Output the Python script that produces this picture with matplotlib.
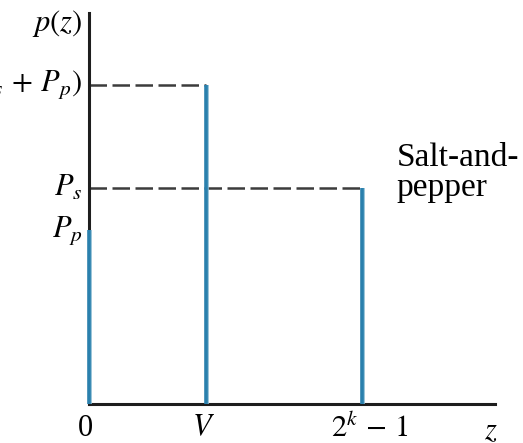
import matplotlib
matplotlib.use("Agg")
import matplotlib.pyplot as plt
import matplotlib.transforms as mtransforms

plt.rcParams["mathtext.fontset"] = "stix"
plt.rcParams["font.family"] = ["Liberation Serif", "DejaVu Serif"]

# impulse positions and heights of the salt-and-pepper PDF
z_pos = [0.0, 1.0, 2.33]
p_val = [0.445, 0.816, 0.552]
z_ticks = [-0.03, 0.98, 2.40]
z_tick_labels = ["0", "$V$", r"$2^k\,-\,1$"]
level_labels = [r"$(P_s\,+\,P_p)$", "$P_s$", "$P_p$"]
level_val = [0.816, 0.552, 0.445]

W, H = 523, 443
fig = plt.figure(figsize=(W / 100, H / 100), dpi=100)
# axes box in pixels: x 89..495, y 13..404 (from top)
ax = fig.add_axes([89 / W, (H - 404) / H, (495 - 89) / W, (404 - 13) / H])
ax.set_xlim(0, 3.47)
ax.set_ylim(0, 1.0)
for s in ["top", "right"]:
    ax.spines[s].set_visible(False)
for s in ["left", "bottom"]:
    ax.spines[s].set_linewidth(2.2)
    ax.spines[s].set_color("#1e1e1e")
ax.set_xticks([])
ax.set_yticks([])

# two-tone impulse lines: darker core, lighter right edge
ax.vlines([x + 0.012 for x in z_pos], 0, p_val, color="#86b9d2", lw=2.6,
          zorder=4, clip_on=False)
ax.vlines(z_pos, 0, p_val, color="#2a80ad", lw=2.6, zorder=5, clip_on=False)

# dashed guides from the y axis to the two tall impulses
ax.hlines([p_val[1]], 0, z_pos[1], color="#3c3c3c", lw=1.8,
          linestyles=(0, (7, 2.2)), zorder=2)
ax.hlines([p_val[2]], 0, z_pos[2], color="#3c3c3c", lw=1.8,
          linestyles=(0, (7, 2.2)), zorder=2)

fs = 22
ty = mtransforms.blended_transform_factory(ax.transAxes, ax.transData)
for lab, v in zip(level_labels, level_val):
    ax.text(-0.016, v, lab, transform=ty, ha="right", va="center",
            fontsize=fs, clip_on=False)
ax.text(-0.016, 0.972, "$p(z)$", transform=ty, ha="right", va="center",
        fontsize=fs, clip_on=False)

tx = mtransforms.blended_transform_factory(ax.transData, ax.transAxes)
for x, lab in zip(z_ticks, z_tick_labels):
    ax.text(x, -0.062, lab, transform=tx, ha="center", va="center",
            fontsize=fs, clip_on=False)
ax.text(0.99, -0.07, "$z$", transform=ax.transAxes, ha="center", va="center",
        fontsize=fs, clip_on=False)

ax.text(2.63, 0.67, "Salt-and-\npepper", ha="left", va="top",
        fontsize=24, linespacing=1.0, clip_on=False,
        family="Liberation Serif")

fig.savefig("out.png", dpi=100)
